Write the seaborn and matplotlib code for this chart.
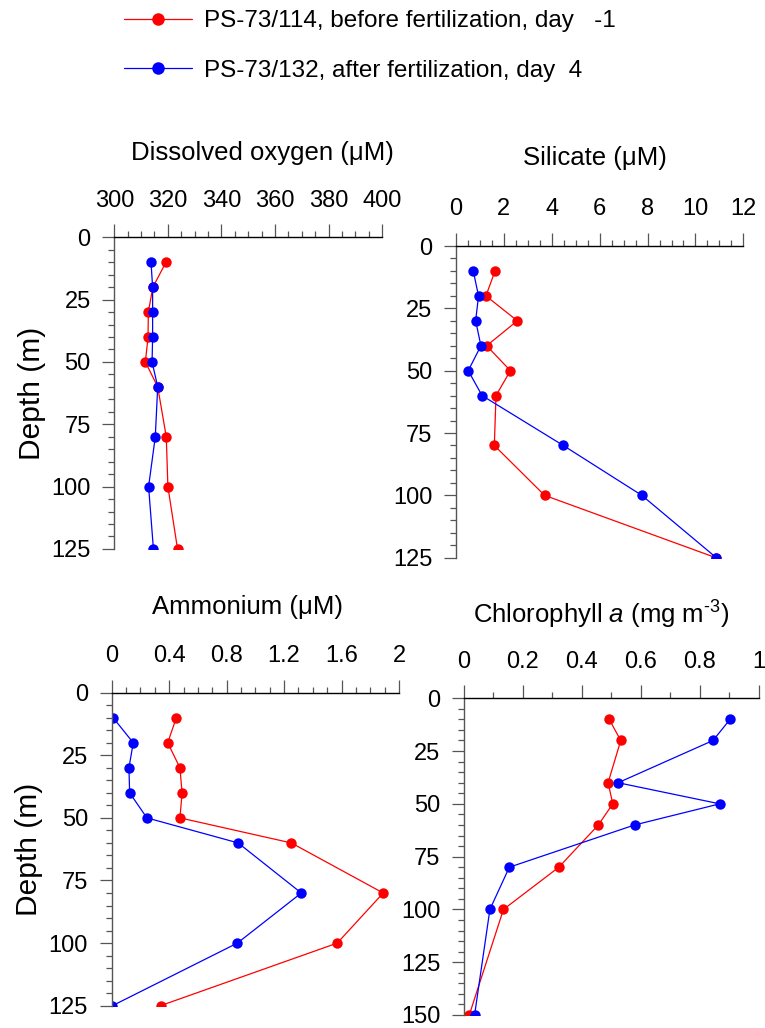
import numpy as np
import pandas as pd
import seaborn as sns
import matplotlib
matplotlib.use("Agg")
import matplotlib.pyplot as plt
from matplotlib.lines import Line2D
from matplotlib.ticker import MultipleLocator, FuncFormatter

# station labels (legend)
stations = ["PS-73/114, before fertilization, day   -1",
            "PS-73/132, after fertilization, day  4"]
colors = ["#ff0000", "#0000ff"]

# sampling depths (m)
depth = [10, 20, 30, 40, 50, 60, 80, 100, 125]
depth_chl = [10, 20, 40, 50, 60, 80, 100, 150]

# profiles
oxygen_114 = [319.3, 314.4, 312.7, 312.6, 311.6, 316.2, 319.4, 320.0, 323.6]
oxygen_132 = [313.7, 314.3, 314.3, 314.3, 314.1, 316.2, 315.3, 312.8, 314.6]
silicate_114 = [1.63, 1.25, 2.56, 1.28, 2.27, 1.67, 1.60, 3.70, 10.85]
silicate_132 = [0.72, 0.94, 0.82, 1.04, 0.51, 1.09, 4.48, 7.76, 10.87]
ammonium_114 = [0.45, 0.39, 0.475, 0.49, 0.475, 1.25, 1.89, 1.57, 0.34]
ammonium_132 = [0.01, 0.15, 0.12, 0.125, 0.245, 0.88, 1.32, 0.875, 0.005]
chl_114 = [0.493, 0.532, 0.489, 0.505, 0.456, 0.322, 0.134, 0.018]
chl_132 = [0.903, 0.845, 0.523, 0.868, 0.579, 0.154, 0.088, 0.036]

sns.set_style("ticks")
plt.rcParams["font.family"] = ["Liberation Sans", "DejaVu Sans"]
plt.rcParams["mathtext.fontset"] = "custom"
plt.rcParams["mathtext.rm"] = "Liberation Sans"
plt.rcParams["mathtext.it"] = "Liberation Sans:italic"
plt.rcParams["text.color"] = "black"
plt.rcParams["axes.labelcolor"] = "black"
plt.rcParams["xtick.labelcolor"] = "black"
plt.rcParams["ytick.labelcolor"] = "black"

fig = plt.figure(figsize=(7.65, 10.28), dpi=100)

panels = [
    # title, red, blue, depths, xlim, major, minor, ylim, axes rect, title pos, ylabel
    ("Dissolved oxygen (\u03bcM)", oxygen_114, oxygen_132, depth,
     (300, 400), 20, 5, 125, [0.1494, 0.4660, 0.3503, 0.3032], (0.551, 1.270), True),
    ("Silicate (\u03bcM)", silicate_114, silicate_132, depth,
     (0, 12), 2, 0.5, 125, [0.5961, 0.4575, 0.3756, 0.3032], (0.484, 1.282), False),
    ("Ammonium (\u03bcM)", ammonium_114, ammonium_132, depth,
     (0, 2), 0.4, 0.1, 125, [0.1460, 0.0217, 0.3756, 0.3045], (0.474, 1.275), True),
    ("Chlorophyll $\\it{a}$ (mg m$^{\\text{-3}}$)", chl_114, chl_132, depth_chl,
     (0, 1), 0.2, 0.1, 150, [0.6065, 0.01265, 0.3852, 0.3081], (0.467, 1.263), False),
]

for title, v114, v132, dep, xlim, major, minor, ymax, rect, tpos, ylab in panels:
    ax = fig.add_axes(rect)
    df = pd.DataFrame({
        "value": list(v114) + list(v132),
        "depth": list(dep) + list(dep),
        "station": [stations[0]] * len(dep) + [stations[1]] * len(dep),
    })
    sns.lineplot(data=df, x="value", y="depth", hue="station",
                 palette=colors, marker="o", markersize=7.5,
                 markeredgewidth=0, linewidth=0.9, sort=False,
                 estimator=None, orient="y", legend=False, ax=ax)

    ax.set_xlim(*xlim)
    ax.set_ylim(ymax, 0)
    ax.xaxis.tick_top()
    ax.xaxis.set_major_locator(MultipleLocator(major))
    ax.xaxis.set_minor_locator(MultipleLocator(minor))
    ax.xaxis.set_major_formatter(FuncFormatter(lambda v, p: f"{v:g}"))
    ax.yaxis.set_major_locator(MultipleLocator(25))
    ax.yaxis.set_minor_locator(MultipleLocator(5))

    for s in ["right", "bottom"]:
        ax.spines[s].set_visible(False)
    ax.spines["top"].set_color("black")
    ax.spines["left"].set_color("#555555")
    ax.spines["top"].set_linewidth(1.0)
    ax.spines["left"].set_linewidth(1.0)

    ax.tick_params(axis="x", which="major", length=9.5, width=0.9,
                   color="#555555", labelsize=17, pad=9, top=True, bottom=False)
    ax.tick_params(axis="x", which="minor", length=4.5, width=0.9,
                   color="#555555", top=True, bottom=False)
    ax.tick_params(axis="y", which="major", length=9, width=0.9,
                   color="#555555", labelsize=17, pad=8)
    ax.tick_params(axis="y", which="minor", length=4.5, width=0.9,
                   color="#555555")

    ax.set_xlabel("")
    if ylab:
        ax.set_ylabel("Depth (m)", fontsize=21.5, labelpad=4)
    else:
        ax.set_ylabel("")

    ax.text(tpos[0], tpos[1], title, transform=ax.transAxes,
            ha="center", va="center", fontsize=18.5)

handles = [Line2D([], [], color=c, linewidth=0.9, marker="o",
                  markersize=9, markeredgewidth=0) for c in colors]
fig.legend(handles, stations, loc="upper left",
           bbox_to_anchor=(124 / 765, 1 - 10 / 1028), frameon=False,
           fontsize=17.5, handlelength=2.8, handletextpad=0.5,
           labelspacing=1.15, borderpad=0, borderaxespad=0)

fig.savefig("out.png", dpi=100)
